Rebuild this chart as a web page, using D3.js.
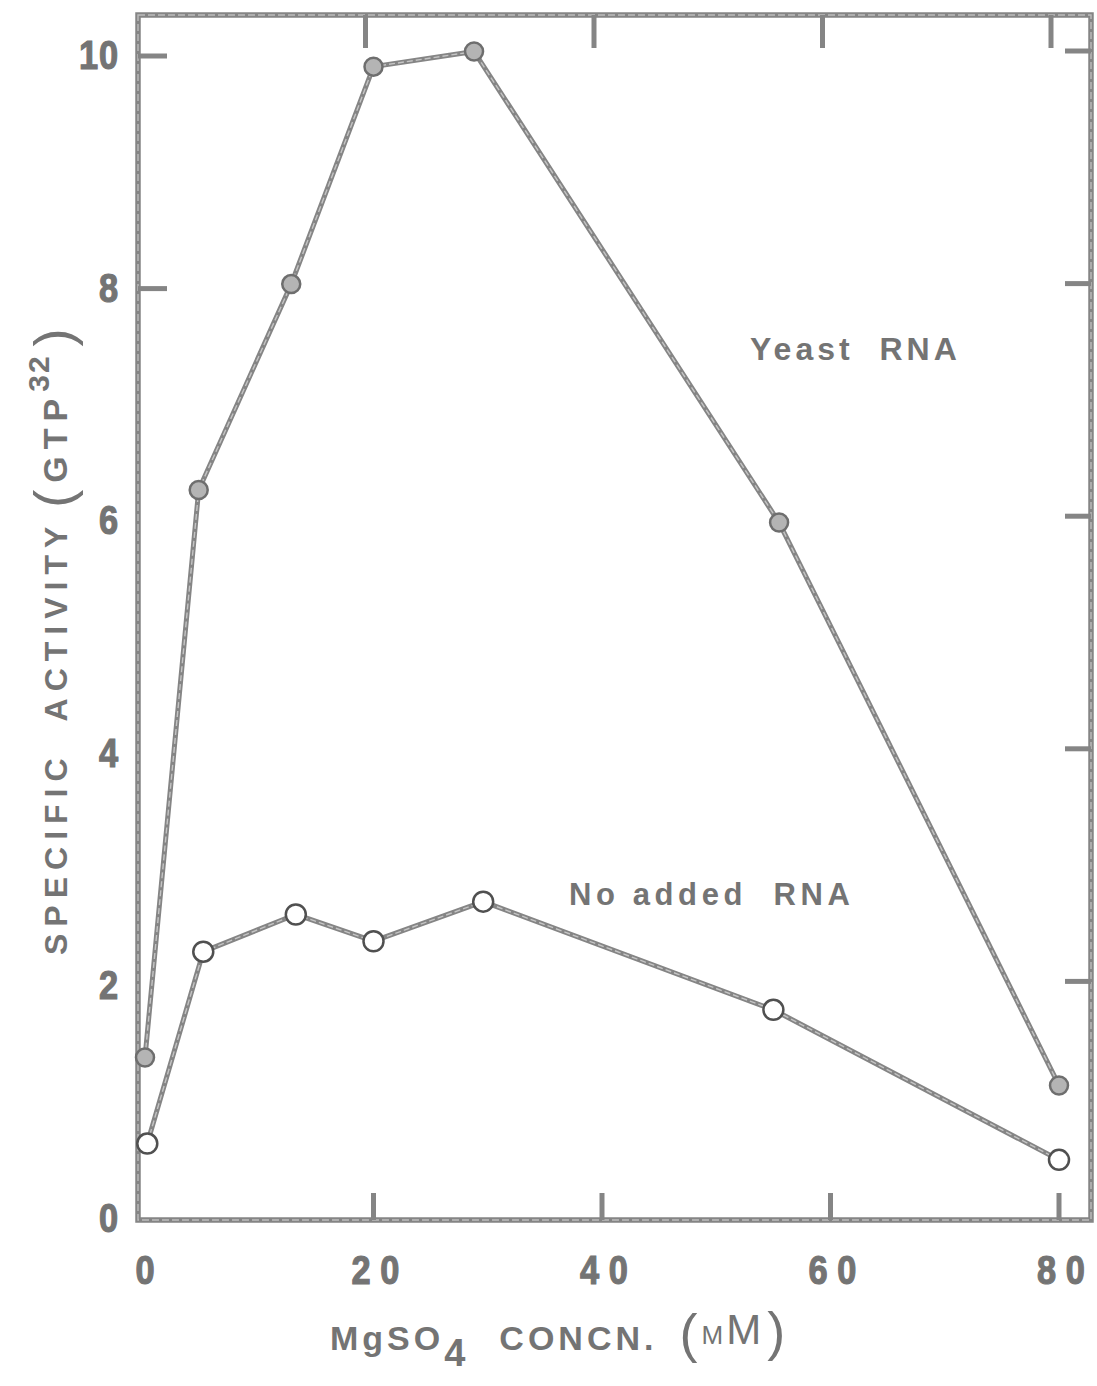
<!DOCTYPE html>
<html>
<head>
<meta charset="utf-8">
<script src="https://cdn.jsdelivr.net/npm/d3@7"></script>
<style>
  html, body { margin: 0; padding: 0; background: #fff; }
  svg { display: block; }
  text { font-family: "Liberation Sans", Arial, sans-serif; font-weight: bold; fill: #747474; }
  .num { stroke: #747474; stroke-width: 1.2px; }
</style>
</head>
<body>
<script>
// MgSO4 concentration (mM) and specific activity for each series
const yeastConc = [0, 4.7, 12.8, 20, 28.8, 55.5, 80];
const yeastActivity = [1.38, 6.26, 8.03, 9.9, 10.03, 5.98, 1.14];

const noRnaConc = [0.2, 5.1, 13.2, 20, 29.6, 55, 80];
const noRnaActivity = [0.64, 2.29, 2.61, 2.38, 2.72, 1.79, 0.5];

const xTicks = [0, 20, 40, 60, 80];
const yTicks = [0, 2, 4, 6, 8, 10];
const xTickLabels = ["0", "20", "40", "60", "80"];
const yTickLabels = ["0", "2", "4", "6", "8", "10"];

const W = 1097, H = 1386;
const frame = { left: 138, right: 1091, top: 15, bottom: 1220 };

const svg = d3.select("body").append("svg").attr("width", W).attr("height", H);

const x = d3.scaleLinear().domain([0, 80]).range([145, 1059]);
const y = d3.scaleLinear().domain([0, 10]).range([1218, 55]);

const ink = "#858585";

// plot frame, drawn twice for a pen-like double stroke
const framePath = `M${frame.left},${frame.top}H${frame.right}V${frame.bottom}H${frame.left}Z`;
svg.append("path").attr("d", framePath).attr("fill", "none")
  .attr("stroke", ink).attr("stroke-width", 5.5);
svg.append("path").attr("d", framePath).attr("fill", "none")
  .attr("stroke", "#bdbdbd").attr("stroke-width", 1.4).attr("stroke-dasharray", "7 3");

// inner ticks on all four sides
const tickG = svg.append("g").attr("stroke", ink).attr("stroke-width", 5);
xTicks.filter(v => v > 0).forEach(v => {
  tickG.append("line").attr("x1", x(v)).attr("x2", x(v)).attr("y1", frame.bottom).attr("y2", frame.bottom - 27);
  tickG.append("line").attr("x1", x(v) - 8).attr("x2", x(v) - 8).attr("y1", frame.top).attr("y2", frame.top + 33);
});
yTicks.filter(v => v > 0).forEach(v => {
  tickG.append("line").attr("x1", frame.right).attr("x2", frame.right - 26).attr("y1", y(v) - 4).attr("y2", y(v) - 4);
});
yTicks.filter(v => v >= 8).forEach(v => {
  tickG.append("line").attr("x1", frame.left).attr("x2", frame.left + 29).attr("y1", y(v) + 1).attr("y2", y(v) + 1);
});

// y tick labels in a narrowed bold face
svg.append("g").selectAll("g").data(yTicks).join("g")
  .attr("transform", d => `translate(119,${y(d)}) scale(0.86,1)`)
  .append("text").attr("class", "num")
  .attr("text-anchor", "end").attr("dominant-baseline", "central")
  .attr("font-size", 40).attr("letter-spacing", 1)
  .text((d, i) => yTickLabels[i]);

// x tick labels, digits spaced out
svg.append("g").selectAll("g").data(xTicks).join("g")
  .attr("transform", d => `translate(${x(d) + (d > 0 ? 2 : 0)},1270) scale(0.86,1)`)
  .append("text").attr("class", "num")
  .attr("text-anchor", "middle").attr("dominant-baseline", "central")
  .attr("font-size", 40)
  .text((d, i) => xTickLabels[i].split("").join(" "));

// axis titles
const xt = svg.append("text").attr("x", 330).attr("y", 1350).attr("font-size", 34).attr("letter-spacing", 4);
xt.append("tspan").text("MgSO");
xt.append("tspan").attr("dy", 16).attr("font-size", 38).text("4");
xt.append("tspan").attr("dy", -16).attr("dx", 30).text("CONCN.");
xt.append("tspan").attr("dx", 22).attr("font-size", 54).attr("font-weight", "normal").attr("dy", 2).text("(");
xt.append("tspan").attr("font-size", 26).attr("font-weight", "normal").attr("dy", -8).attr("dx", 0).attr("letter-spacing", 0).text("M");
xt.append("tspan").attr("font-weight", "normal").attr("font-size", 42).attr("dx", 3).attr("letter-spacing", 0).text("M");
xt.append("tspan").attr("font-size", 54).attr("font-weight", "normal").attr("dy", 6).attr("dx", 6).text(")");

const yt = svg.append("text")
  .attr("transform", "translate(67,955) rotate(-90)")
  .attr("font-size", 32).attr("letter-spacing", 7);
yt.append("tspan").text("SPECIFIC");
yt.append("tspan").attr("dx", 30).text("ACTIVITY");
yt.append("tspan").attr("dx", 12).attr("font-size", 54).attr("font-weight", "normal").attr("dy", 5).text("(");
yt.append("tspan").attr("dy", -5).attr("dx", 0).attr("font-size", 34).text("GTP");
yt.append("tspan").attr("dy", -18).attr("font-size", 30).attr("letter-spacing", 2).text("32");
yt.append("tspan").attr("dy", 23).attr("dx", 8).attr("font-size", 54).attr("font-weight", "normal").text(")");

// series labels
svg.append("text").attr("x", 750).attr("y", 360).attr("font-size", 32).attr("letter-spacing", 4)
  .attr("xml:space", "preserve").text("Yeast  RNA");
svg.append("text").attr("x", 569).attr("y", 905).attr("font-size", 31).attr("letter-spacing", 4.6)
  .attr("xml:space", "preserve").text("No added  RNA");

// series lines
const line = d3.line().x(d => x(d[0])).y(d => y(d[1]));
const yeast = yeastConc.map((c, i) => [c, yeastActivity[i]]);
const noRna = noRnaConc.map((c, i) => [c, noRnaActivity[i]]);

[yeast, noRna].forEach(data => {
  svg.append("path").datum(data).attr("d", line).attr("fill", "none")
    .attr("stroke", ink).attr("stroke-width", 5).attr("stroke-linejoin", "round");
  svg.append("path").datum(data).attr("d", line).attr("fill", "none")
    .attr("stroke", "#c4c4c4").attr("stroke-width", 1.4).attr("stroke-dasharray", "6 3");
});

// markers: filled for yeast RNA, open for no added RNA
svg.append("g").selectAll("circle").data(yeast).join("circle")
  .attr("cx", d => x(d[0])).attr("cy", d => y(d[1])).attr("r", 9)
  .attr("fill", "#b4b4b4").attr("stroke", "#6e6e6e").attr("stroke-width", 2.5);
svg.append("g").selectAll("circle").data(noRna).join("circle")
  .attr("cx", d => x(d[0])).attr("cy", d => y(d[1])).attr("r", 10)
  .attr("fill", "#fff").attr("stroke", "#505050").attr("stroke-width", 2.5);
</script>
</body>
</html>
